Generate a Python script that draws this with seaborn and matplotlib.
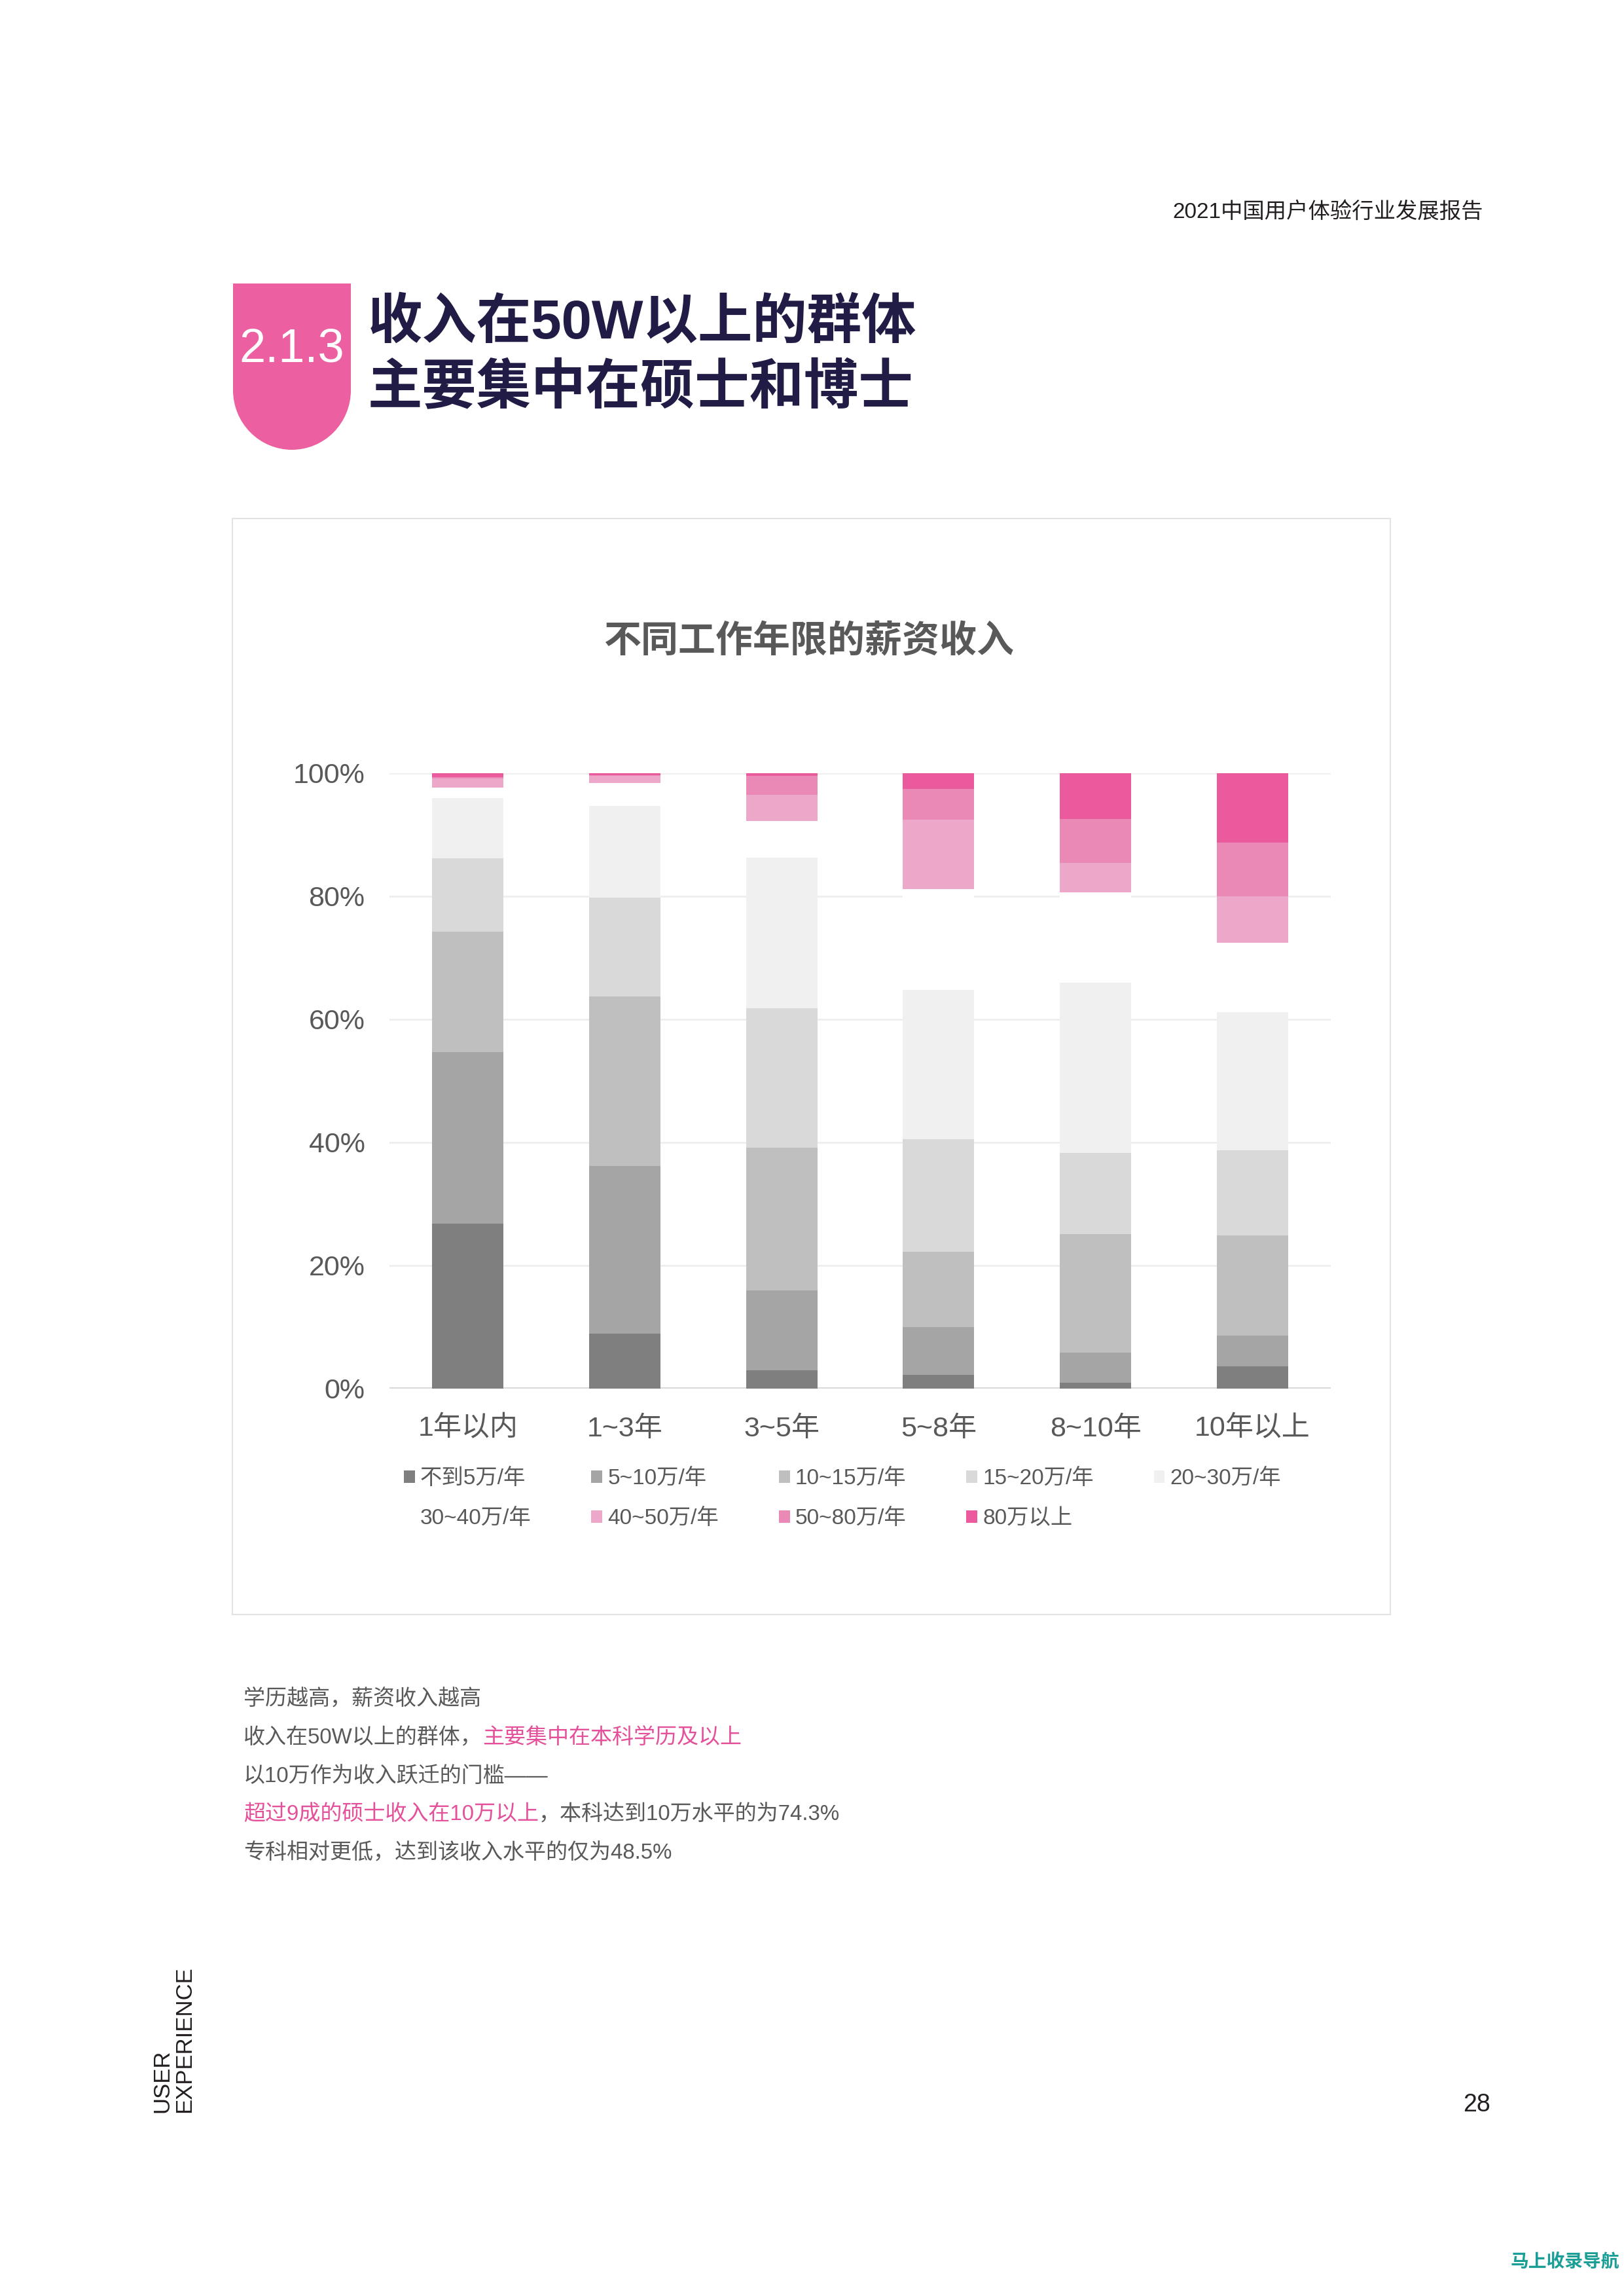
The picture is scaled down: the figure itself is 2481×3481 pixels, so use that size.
import matplotlib
matplotlib.use("Agg")
import matplotlib.pyplot as plt
from matplotlib.patches import Rectangle, Ellipse, Patch
import seaborn as sns
import numpy as np

# ---------------- data ----------------
categories = ["1年以内", "1~3年", "3~5年", "5~8年", "8~10年", "10年以上"]
series_labels = ["不到5万/年", "5~10万/年", "10~15万/年", "15~20万/年", "20~30万/年",
                 "30~40万/年", "40~50万/年", "50~80万/年", "80万以上"]
s_lt5 = [26.8, 8.9, 3.0, 2.2, 1.0, 3.6]
s_5_10 = [27.9, 27.3, 13.0, 7.8, 4.8, 5.0]
s_10_15 = [19.6, 27.5, 23.1, 12.2, 19.3, 16.3]
s_15_20 = [11.9, 16.1, 22.7, 18.3, 13.2, 13.8]
s_20_30 = [9.8, 14.9, 24.5, 24.3, 27.7, 22.5]
s_30_40 = [1.7, 3.7, 5.9, 16.4, 14.6, 11.3]
s_40_50 = [1.4, 1.2, 4.3, 11.2, 4.8, 7.5]
s_50_80 = [0.3, 0.1, 3.1, 5.1, 7.2, 8.7]
s_80p = [0.6, 0.3, 0.4, 2.5, 7.4, 11.3]
series_values = [s_lt5, s_5_10, s_10_15, s_15_20, s_20_30, s_30_40, s_40_50, s_50_80, s_80p]
colors = ["#7F7F7F", "#A5A5A5", "#BFBFBF", "#D9D9D9", "#F0F0F0",
          "#FFFFFF", "#EDA8C9", "#EA88B6", "#EC5A9E"]
yticks = [0, 20, 40, 60, 80, 100]
ytick_labels = ["0%", "20%", "40%", "60%", "80%", "100%"]

header_text = "2021中国用户体验行业发展报告"
section_no = "2.1.3"
title_lines = ["收入在50W以上的群体", "主要集中在硕士和博士"]
chart_title = "不同工作年限的薪资收入"
GRAY_T = "#595959"
PINK_T = "#E5509A"
body_lines = [
    [("学历越高，薪资收入越高", GRAY_T)],
    [("收入在50W以上的群体，", GRAY_T), ("主要集中在本科学历及以上", PINK_T)],
    [("以10万作为收入跃迁的门槛——", GRAY_T)],
    [("超过9成的硕士收入在10万以上", PINK_T), ("，本科达到10万水平的为74.3%", GRAY_T)],
    [("专科相对更低，达到该收入水平的仅为48.5%", GRAY_T)],
]

# ---------------- setup ----------------
sns.set_theme(style="white")
plt.rcParams["font.family"] = ["Liberation Sans", "Noto Sans CJK SC", "DejaVu Sans"]

W, H = 2481, 3481
fig = plt.figure(figsize=(W / 100, H / 100), dpi=100)
fig.patch.set_facecolor("white")


def fx(x):
    return x / W


def fy(y):
    return 1 - y / H


# header
fig.text(fx(2266), fy(324), header_text, ha="right", va="center", fontsize=24, color="#231F20")

# pink section tag
tag_col = "#EC5FA0"
fig.patches.append(Rectangle((fx(356), fy(598)), fx(180), 165 / H, transform=fig.transFigure,
                             facecolor=tag_col, edgecolor="none"))
fig.patches.append(Ellipse((fx(446), fy(596)), fx(180), 182 / H, transform=fig.transFigure,
                           facecolor=tag_col, edgecolor="none"))
fig.text(fx(446), fy(534), section_no, ha="center", va="center", fontsize=52, color="white")

# title
for i, line in enumerate(title_lines):
    fig.text(fx(562), fy(495 + 100 * i), line, ha="left", va="center", fontsize=60,
             fontweight="bold", color="#211C45")

# chart frame
fig.patches.append(Rectangle((fx(355), fy(2466)), fx(2124 - 355), (2466 - 792) / H,
                             transform=fig.transFigure, facecolor="none",
                             edgecolor="#E3E3E3", linewidth=1.5))

fig.text(fx(1236), fy(981), chart_title, ha="center", va="center", fontsize=41,
         color=GRAY_T, fontweight="bold")

# ---------------- chart ----------------
ax = fig.add_axes([fx(595), fy(2121), fx(2033 - 595), 940 / H])
cum = np.cumsum(np.array(series_values), axis=0)
for i in range(len(series_values) - 1, -1, -1):
    sns.barplot(x=categories, y=cum[i], order=categories, color=colors[i], saturation=1,
                width=0.455, errorbar=None, ax=ax, linewidth=0, edgecolor="none", zorder=2)

ax.set_xlim(-0.5, 5.5)
ax.set_ylim(0, 100)
ax.set_yticks(yticks)
ax.set_yticklabels(ytick_labels)
ax.yaxis.grid(True, color="#EFEFEF", linewidth=2.2, zorder=0)
ax.xaxis.grid(False)
ax.set_axisbelow(True)
ax.axhline(0, color="#D9D9D9", linewidth=3, zorder=1)
for sp in ax.spines.values():
    sp.set_visible(False)
ax.tick_params(axis="y", length=0, pad=27, labelsize=31, labelcolor=GRAY_T)
ax.tick_params(axis="x", length=0, pad=30, labelsize=31, labelcolor=GRAY_T)
ax.set_xlabel("")
ax.set_ylabel("")
ax.set_facecolor("none")

handles = [Patch(facecolor=c, edgecolor="none") for c in colors]
order = [0, 5, 1, 6, 2, 7, 3, 8, 4]
ax.legend([handles[k] for k in order], [series_labels[k] for k in order], ncol=5,
          loc="upper left", bbox_to_anchor=(fx(617), fy(2243)), bbox_transform=fig.transFigure,
          frameon=False, fontsize=24, handlelength=0.5, handleheight=0.5, handletextpad=0.25,
          columnspacing=2.75, labelspacing=0.9, borderpad=0, borderaxespad=0,
          labelcolor=GRAY_T)

# ---------------- body text ----------------
renderer = fig.canvas.get_renderer()
for li, parts in enumerate(body_lines):
    x = 372
    y = 2596 + 58.5 * li
    for txt, col in parts:
        t = fig.text(fx(x), fy(y), txt, ha="left", va="center", fontsize=23.8, color=col)
        bb = t.get_window_extent(renderer=renderer)
        x += bb.width

# side label & page number
fig.text(fx(231), fy(3227), "USER\nEXPERIENCE", rotation=90, ha="left", va="bottom",
         multialignment="left", fontsize=25, color="#231F20", linespacing=1.05)
fig.text(fx(2277), fy(3225), "28", ha="right", va="baseline", fontsize=27, color="#231F20")

# watermark
fig.text(fx(2474), fy(3455), "马上收录导航", ha="right", va="center", fontsize=20,
         fontweight="bold", color="#1A9E96")

fig.savefig("out.png", dpi=100, facecolor="white")
